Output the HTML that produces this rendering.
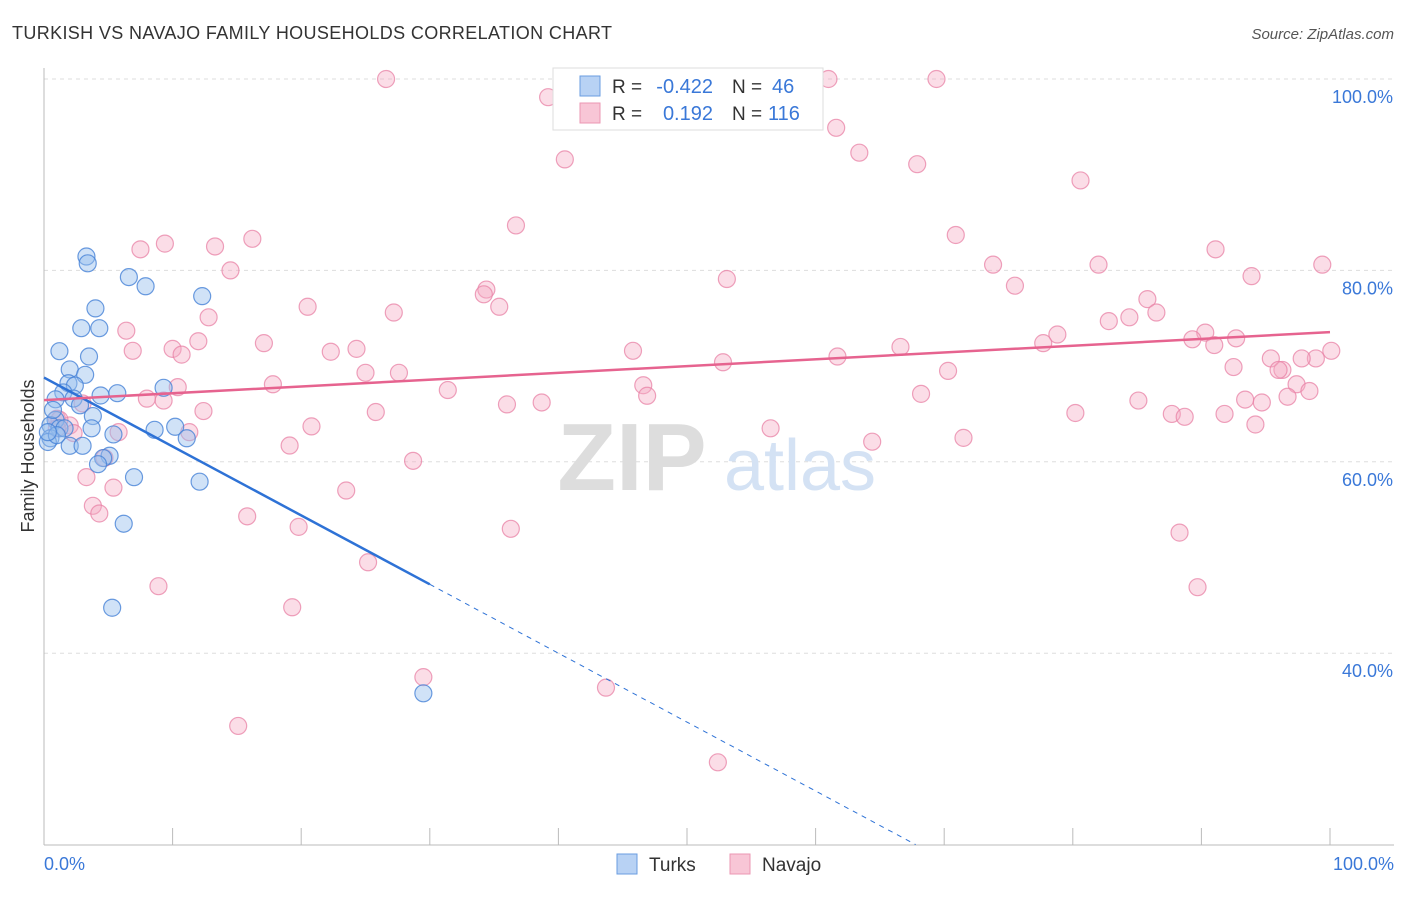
<!DOCTYPE html>
<html><head><meta charset="utf-8"><style>
body{margin:0;background:#fff;font-family:"Liberation Sans",sans-serif;}
svg text{font-family:"Liberation Sans",sans-serif;}
</style></head><body>
<svg id="chart" width="1406" height="892" viewBox="0 0 1406 892">
<text x="12" y="39" font-size="18" fill="#333" textLength="600">TURKISH VS NAVAJO FAMILY HOUSEHOLDS CORRELATION CHART</text>
<text x="1394" y="39" font-size="15" fill="#555" font-style="italic" text-anchor="end">Source: ZipAtlas.com</text>
<g id="grid"></g>
<text x="632" y="490" font-size="96" fill="#ddd" font-family="Liberation Serif" font-weight="bold" text-anchor="middle">ZIP</text>
<text x="800" y="490" font-size="72" fill="#d4e2f4" text-anchor="middle">atlas</text>
<g id="pts"></g>
<g id="lines"></g>
<text transform="translate(34,456) rotate(-90)" font-size="18" fill="#333" text-anchor="middle">Family Households</text>
<text x="44" y="870" font-size="18" fill="#3a78d8">0.0%</text>
<text x="1394" y="870" font-size="18" fill="#3a78d8" text-anchor="end">100.0%</text>
<g>
<rect x="553" y="68" width="270" height="62" fill="#fff" stroke="#ddd"/>
<rect x="580" y="76" width="20" height="20" fill="#b8d2f4" stroke="#6a9ce0"/>
<rect x="580" y="103" width="20" height="20" fill="#f8c6d6" stroke="#eb97b3"/>
<text x="612" y="93" font-size="19" fill="#333">R =</text>
<text x="713" y="93" font-size="20" fill="#3a78d8" text-anchor="end">-0.422</text>
<text x="732" y="93" font-size="19" fill="#333">N =</text>
<text x="772" y="93" font-size="20" fill="#3a78d8">46</text>
<text x="612" y="120" font-size="19" fill="#333">R =</text>
<text x="713" y="120" font-size="20" fill="#3a78d8" text-anchor="end">0.192</text>
<text x="732" y="120" font-size="19" fill="#333">N =</text>
<text x="768" y="120" font-size="20" fill="#3a78d8">116</text>
</g>
<g>
<rect x="617" y="854" width="20" height="20" fill="#b8d2f4" stroke="#6a9ce0"/>
<text x="649" y="871" font-size="19" fill="#333">Turks</text>
<rect x="730" y="854" width="20" height="20" fill="#f8c6d6" stroke="#eb97b3"/>
<text x="762" y="871" font-size="19" fill="#333">Navajo</text>
</g>
</svg>
<script>
const yTicks=[40,60,80,100];
const yTickLabels=["40.0%","60.0%","80.0%","100.0%"];
const xTicks=[0,10,20,30,40,50,60,70,80,90,100];
const turksX=[3.3,3.4,6.6,7.9,12.3,4.0,2.9,4.3,1.2,3.5,2.0,3.2,1.9,2.4,1.5,5.7,4.4,9.3,0.9,2.3,2.8,3.8,0.9,0.5,1.2,3.7,8.6,10.2,5.4,11.1,0.5,0.3,2.0,3.0,5.1,4.6,4.2,7.0,12.1,6.2,5.3,29.5,1.6,1.0,0.3,0.7];
const turksY=[81.45,80.74,79.3,78.34,77.31,76.03,73.96,73.96,71.56,71.0,69.65,69.09,68.21,67.97,67.25,67.17,66.93,67.73,66.53,66.61,65.9,64.78,64.38,63.82,63.5,63.5,63.34,63.66,62.86,62.46,62.46,62.07,61.67,61.67,60.63,60.39,59.75,58.39,57.92,53.53,44.75,35.81,63.5,62.78,63.1,65.42];
const navajoX=[26.6,40.7,61.0,69.4,39.2,61.6,40.5,63.4,67.9,80.6,36.7,70.9,16.2,9.4,7.5,13.3,91.1,14.5,73.8,82.0,99.4,53.1,93.9,75.5,34.4,34.2,20.5,35.4,27.2,12.8,85.8,86.5,84.4,82.8,6.4,17.1,12.0,78.8,77.7,90.3,89.3,91.0,92.7,6.9,10.0,10.7,22.3,24.3,45.8,66.6,100.1,61.7,52.8,95.4,98.9,97.8,92.5,96.3,96.0,25.0,27.6,70.3,46.6,97.4,17.8,10.4,31.4,8.0,98.4,46.9,68.2,3.0,9.3,38.7,36.0,85.1,93.4,94.7,96.7,12.4,25.8,80.2,91.8,87.7,88.7,1.0,2.0,94.2,5.8,11.3,20.8,56.5,71.5,64.4,19.1,2.3,28.7,3.3,23.5,4.7,5.4,3.8,4.3,15.8,19.8,36.3,88.3,25.2,8.9,89.7,19.3,29.5,43.7,15.1,52.4,1.2,1.0];
const navajoY=[100,100,100,100,98.1,94.9,91.6,92.3,91.1,89.4,84.7,83.7,83.3,82.8,82.2,82.5,82.2,80.0,80.6,80.6,80.6,79.1,79.4,78.4,78.0,77.5,76.2,76.2,75.6,75.1,77.0,75.6,75.1,74.7,73.7,72.4,72.6,73.3,72.4,73.5,72.8,72.2,72.9,71.6,71.8,71.2,71.5,71.8,71.6,72.0,71.6,71.0,70.4,70.8,70.8,70.8,69.9,69.6,69.6,69.3,69.3,69.5,68.0,68.1,68.1,67.8,67.5,66.6,67.4,66.9,67.1,66.1,66.4,66.2,66.0,66.4,66.5,66.2,66.8,65.3,65.2,65.1,65.0,65.0,64.7,64.5,63.8,63.9,63.1,63.1,63.7,63.5,62.5,62.1,61.7,63.0,60.1,58.4,57.0,60.4,57.3,55.4,54.6,54.3,53.2,53.0,52.6,49.5,47.0,46.9,44.8,37.5,36.4,32.4,28.6,64.4,63.5];
const turksTrend=[68.8,-0.72];
const navajoTrend=[66.45,0.071];
const yMin=20;
const NS="http://www.w3.org/2000/svg";
const sx=v=>44+v*12.86;
const sy=v=>79+(100-v)*9.57;
function mk(tag,attrs,parent){const e=document.createElementNS(NS,tag);for(const k in attrs)e.setAttribute(k,attrs[k]);parent.appendChild(e);return e;}
const grid=document.getElementById('grid');
yTicks.forEach((t,i)=>{
  const l=mk('line',{x1:44,x2:1394,y1:sy(t),y2:sy(t),stroke:'#ddd','stroke-dasharray':'4,4'},grid);
  
  
  const tx=mk('text',{x:1393,y:sy(t)+24,'font-size':18,fill:'#3a78d8','text-anchor':'end'},grid);
  tx.textContent=yTickLabels[i];
  
  
});
const ax=mk('line',{x1:44,x2:44,y1:68,y2:845,stroke:'#bbb'},grid);


const bx=mk('line',{x1:44,x2:1394,y1:845,y2:845,stroke:'#bbb'},grid);


xTicks.forEach(t=>{
  const l=mk('line',{x1:sx(t),x2:sx(t),y1:828,y2:845,stroke:'#bbb'},grid);
  
  
});
const pts=document.getElementById('pts');
navajoX.forEach((x,i)=>{
  const c=mk('circle',{cx:sx(x),cy:sy(navajoY[i]),r:8.5,fill:'rgba(244,170,196,0.4)',stroke:'rgba(232,130,165,0.75)','stroke-width':1.2},pts);
  
  
});
turksX.forEach((x,i)=>{
  const c=mk('circle',{cx:sx(x),cy:sy(turksY[i]),r:8.5,fill:'rgba(150,190,238,0.45)',stroke:'rgba(70,130,215,0.8)','stroke-width':1.2},pts);
  
  
});
const lines=document.getElementById('lines');
const tf=x=>turksTrend[0]+turksTrend[1]*x;
const nf=x=>navajoTrend[0]+navajoTrend[1]*x;
const t1=mk('line',{x1:sx(0),y1:sy(tf(0)),x2:sx(30),y2:sy(tf(30)),stroke:'#2e72d6','stroke-width':2.5},lines);


const xe=(turksTrend[0]-yMin)/(-turksTrend[1]);
const t2=mk('line',{x1:sx(30),y1:sy(tf(30)),x2:sx(xe),y2:sy(yMin),stroke:'#2e72d6','stroke-width':1,'stroke-dasharray':'5,5'},lines);


const n1=mk('line',{x1:sx(0),y1:sy(nf(0)),x2:sx(100),y2:sy(nf(100)),stroke:'#e6638f','stroke-width':2.5},lines);


</script>
</body></html>
